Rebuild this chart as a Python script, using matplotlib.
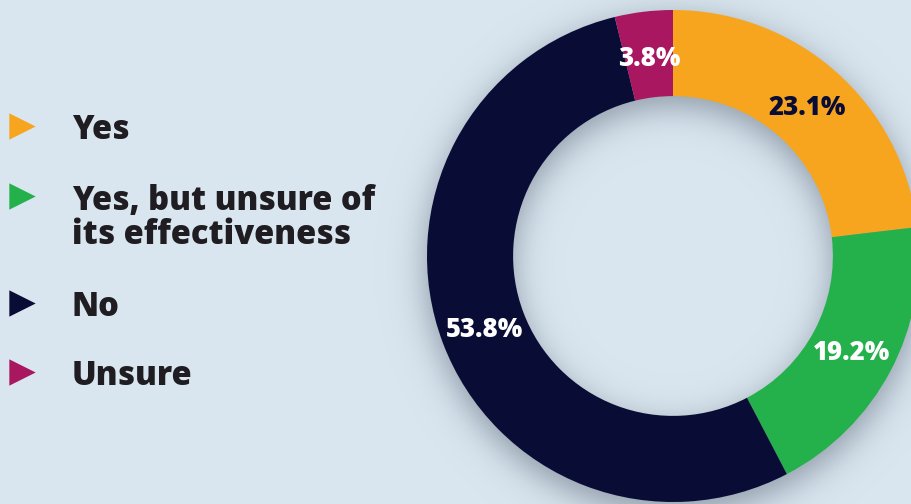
import numpy as np
import matplotlib
matplotlib.use("Agg")
import matplotlib.pyplot as plt

categories = ["Yes", "Yes, but unsure of\nits effectiveness", "No", "Unsure"]
values = [23.1, 19.2, 53.8, 3.8]
labels = ["23.1%", "19.2%", "53.8%", "3.8%"]
colors = ["#f7a51e", "#24b04b", "#090d35", "#a8175f"]
label_colors = ["#090d35", "white", "white", "white"]

BG = "#dae6ef"
FONT = "Open Sans"
W, H = 912, 504
fig = plt.figure(figsize=(W / 100, H / 100), dpi=100, facecolor=BG)
ax = fig.add_axes([0, 0, 1, 1])

cx, cy, R = 673, 248, 246
width = 0.35
r_in = R * (1 - width)

# soft drop shadow of the ring
xs = np.arange(W) + 0.5
ys = np.arange(H) + 0.5
X, Y = np.meshgrid(xs, ys)
dy = 10
rr = np.hypot(X - cx, Y - (cy - dy))
d = np.maximum(rr - R, r_in - rr)
sig = 18.0
alpha = 0.58 / (1 + np.exp(1.7 * d / sig))
shadow = np.zeros((H, W, 4))
shadow[..., 0] = 0.32
shadow[..., 1] = 0.38
shadow[..., 2] = 0.45
shadow[..., 3] = alpha
ax.imshow(shadow, extent=(0, W, 0, H), origin="lower", zorder=0, interpolation="bilinear")

wedges, texts = ax.pie(
    values, colors=colors, startangle=90, counterclock=False,
    center=(cx, cy), radius=R, wedgeprops=dict(width=R * width, linewidth=0),
    frame=True,
)
for w in wedges:
    w.set_zorder(2)
ax.set_xlim(0, W)
ax.set_ylim(0, H)
ax.set_aspect("equal")
ax.axis("off")

# percentage labels
start = 90.0
tot = sum(values)
for v, lab, lc in zip(values, labels, label_colors):
    mid = start - v / tot * 360 / 2
    start -= v / tot * 360
    rl = R * 0.82
    ax.text(cx + rl * np.cos(np.radians(mid)), cy + rl * np.sin(np.radians(mid)) - 3, lab,
            ha="center", va="center", color=lc, fontsize=18.5, fontweight=800,
            family=FONT, zorder=3)

# legend
leg_y = [378, 308, 201, 132]
for c, cat, yy in zip(colors, categories, leg_y):
    ax.scatter([22], [yy], marker=">", s=360, color=c, linewidths=0, zorder=3)
    off = -22 if "\n" in cat else -4
    ax.text(72, yy + off, cat, ha="left", va="center",
            fontsize=23.5, fontweight=800, family=FONT, color="#1f1d22",
            linespacing=1.0, zorder=3)

fig.savefig("out.png", dpi=100, facecolor=BG)
